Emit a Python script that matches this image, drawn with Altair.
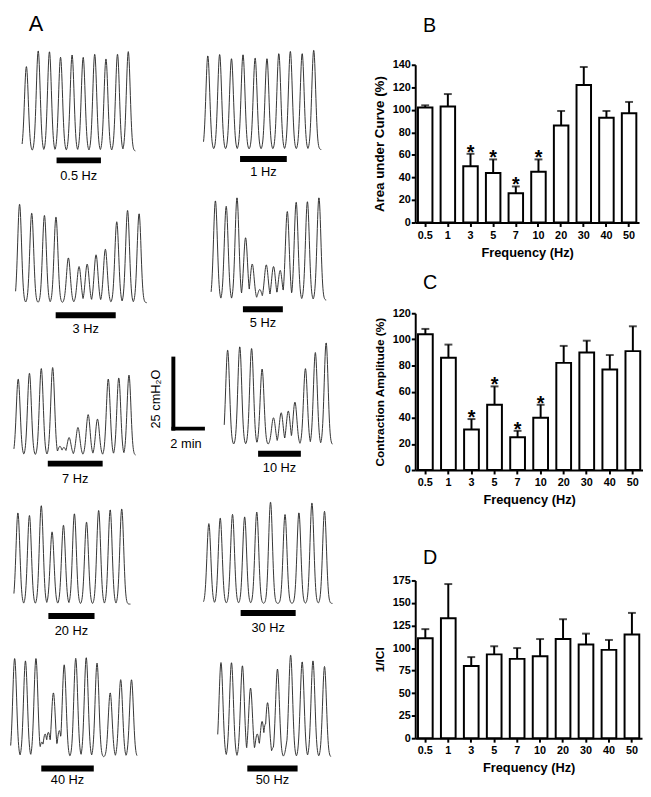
import altair as alt
import numpy as np
import pandas as pd

FONT = "Liberation Sans"

# ---------------- Panels B-D: bar data ----------------
freq_labels = ["0.5", "1", "3", "5", "7", "10", "20", "30", "40", "50"]
auc_mean = [102, 103, 50, 44, 26, 45, 86, 122, 93, 97]
auc_sem = [2, 11, 11, 12, 6, 11, 13, 16, 6, 10]
amp_mean = [104, 86, 31, 50, 25, 40, 82, 90, 77, 91]
amp_sem = [4, 10, 8, 14, 5, 10, 13, 9, 11, 19]
ici_mean = [111, 133, 80, 93, 88, 91, 110, 104, 98, 115]
ici_sem = [10, 38, 10, 9, 12, 19, 22, 12, 11, 24]
auc_sig = [False, False, True, True, True, True, False, False, False, False]
amp_sig = [False, False, True, True, True, True, False, False, False, False]
ici_sig = [False] * 10

# ---------------- Panel A: pressure traces ----------------
# peak times in min from trace start, peak amplitudes in cmH2O
tr05_t = [0.29, 1.09, 1.85, 2.6, 3.38, 4.13, 4.91, 5.67, 6.45, 7.18]
tr05_h = [30.2, 35.8, 35.5, 33.5, 34.3, 33.5, 34.6, 32.9, 34.6, 35.5]
tr1_t = [0.29, 1.09, 1.89, 2.67, 3.49, 4.29, 5.09, 5.87, 6.67, 7.45]
tr1_h = [33.5, 34.0, 32.5, 33.9, 32.7, 32.5, 34.3, 35.1, 34.3, 35.5]
tr3_t = [0.27, 1.09, 1.95, 2.73, 3.57, 4.29, 4.84, 5.44, 6.07, 6.84, 7.57, 8.35]
tr3_h = [35.2, 32.0, 31.2, 30.6, 16.0, 12.9, 13.8, 17.1, 19.1, 28.9, 33.0, 31.8]
tr5_t = [0.29, 1.02, 1.75, 2.33, 2.78, 3.29, 3.73, 4.22, 4.67, 5.15, 5.75, 6.51, 7.29]
tr5_h = [35.5, 33.5, 36.6, 22.3, 12.9, 3.8, 12.6, 12.0, 10.6, 31.7, 35.0, 35.2, 36.6]
tr7_t = [0.29, 1.05, 1.85, 2.62, 3.11, 3.38, 3.73, 4.33, 5.02, 5.65, 6.38, 7.09, 7.78]
tr7_h = [27.2, 29.3, 31.0, 31.3, 3.2, 2.8, 6.3, 9.9, 14.5, 12.9, 27.2, 27.6, 28.6]
tr10_t = [0.23, 1.05, 1.85, 2.56, 3.33, 3.85, 4.33, 4.78, 5.49, 6.16, 6.89]
tr10_h = [33.8, 35.0, 34.4, 27.0, 9.6, 11.4, 12.0, 15.2, 27.2, 32.9, 36.4]
tr20_t = [0.27, 1.05, 1.85, 2.58, 3.35, 4.09, 4.91, 5.73, 6.51, 7.29]
tr20_h = [32.6, 31.7, 35.2, 25.8, 28.2, 32.3, 29.3, 33.5, 33.7, 34.0]
tr30_t = [0.36, 1.13, 1.96, 2.78, 3.6, 4.53, 5.51, 6.45, 7.33, 8.18]
tr30_h = [28.5, 30.5, 31.8, 30.9, 32.6, 36.2, 31.8, 32.4, 35.9, 32.9]
tr40_t = [0.27, 1.0, 1.71, 2.11, 2.33, 2.55, 2.89, 3.29, 3.62, 4.4, 5.11, 5.84, 6.73, 7.44, 8.17]
tr40_h = [35.2, 34.3, 35.2, 5.3, 8.2, 8.8, 22.9, 9.4, 32.9, 35.2, 35.5, 33.5, 22.9, 27.6, 27.6]
tr50_t = [0.22, 0.93, 1.67, 2.22, 2.67, 3.0, 3.22, 3.37, 3.77, 4.04, 4.77, 4.93, 5.71, 6.44, 7.22]
tr50_h = [33.7, 33.7, 32.6, 24.6, 8.2, 12.7, 11.7, 19.4, 3.5, 31.4, 7.6, 36.4, 34.0, 34.3, 32.3]

trace_labels = ["0.5 Hz", "1 Hz", "3 Hz", "5 Hz", "7 Hz", "10 Hz", "20 Hz", "30 Hz", "40 Hz", "50 Hz"]
trace_end = [7.67, 7.96, 8.89, 7.78, 8.22, 7.33, 7.89, 8.73, 8.55, 7.67]
stim_start = [2.33, 2.47, 2.71, 2.15, 2.29, 2.29, 2.33, 2.51, 2.07, 2.0]
stim_end = [5.33, 5.63, 6.77, 4.85, 6.0, 5.18, 5.45, 6.23, 5.62, 5.4]
scale_bar_cm = [25]
scale_bar_min = [2]

peaks_t = [tr05_t, tr1_t, tr3_t, tr5_t, tr7_t, tr10_t, tr20_t, tr30_t, tr40_t, tr50_t]
peaks_h = [tr05_h, tr1_h, tr3_h, tr5_h, tr7_h, tr10_h, tr20_h, tr30_h, tr40_h, tr50_h]

# ---------------- layout (pixels) ----------------
K_Y = 2.84   # px per cmH2O
K_X = 15.0   # px per min
SIGMA = 0.13  # peak width (style)
# per trace: panel left, panel width, trace start x, panel top, panel height, baseline y, bar y, label y
layout = [
    (8, 192, 18.3, 8, 174, 145.5, 155, 171),
    (200, 136, 202.3, 8, 174, 144, 153.5, 167),
    (8, 192, 11.7, 182, 153, 299.3, 312, 326.5),
    (200, 136, 210, 182, 153, 296.7, 306, 320.3),
    (8, 192, 10, 335, 154, 454, 462.5, 478),
    (200, 136, 218.3, 335, 154, 443.3, 452.5, 466.7),
    (8, 192, 10, 489, 153, 605, 617, 632.5),
    (200, 136, 202.3, 489, 153, 604.3, 614, 629),
    (8, 192, 6.7, 642, 147, 760, 771.7, 783.5),
    (200, 136, 216.7, 642, 147, 760, 771.7, 783.5),
]


def trace_frame(tp, hp, t_end):
    t = np.arange(0, t_end + 1e-9, 0.02)
    tpa = np.array(tp)[:, None]
    hpa = np.array(hp)[:, None]
    y = (hpa * np.exp(-0.5 * ((t[None, :] - tpa) / SIGMA) ** 2)).max(axis=0)
    return pd.DataFrame({"t": t, "p": y})


def trace_panel(i):
    xl, W, xs, y0, H, yb, bar_y, lab_y = layout[i]
    x_lo = -(xs - xl) / K_X
    xsc = alt.Scale(domain=[x_lo, x_lo + W / K_X], nice=False, zero=False)
    y_hi = (yb - y0) / K_Y
    ysc = alt.Scale(domain=[y_hi - H / K_Y, y_hi], nice=False, zero=False)
    line = alt.Chart(trace_frame(peaks_t[i], peaks_h[i], trace_end[i])).mark_line(
        color="#333333", strokeWidth=1
    ).encode(
        x=alt.X("t:Q", scale=xsc, axis=None),
        y=alt.Y("p:Q", scale=ysc, axis=None),
    )
    sdf = pd.DataFrame({"s": [stim_start[i]], "e": [stim_end[i]], "label": [trace_labels[i]]})
    bar = alt.Chart(sdf).mark_rule(color="black", strokeWidth=6).encode(
        x=alt.X("s:Q", scale=xsc, axis=None), x2="e:Q", y=alt.value(bar_y - y0)
    )
    lab = alt.Chart(sdf).transform_calculate(mid="(datum.s + datum.e) / 2").mark_text(
        font=FONT, fontSize=13, align="center", baseline="middle", color="black"
    ).encode(x=alt.X("mid:Q", scale=xsc, axis=None), y=alt.value(lab_y - y0), text="label:N")
    layers = [line, bar, lab]
    if i == 0:
        layers.append(
            alt.Chart(pd.DataFrame({"txt": ["A"]})).mark_text(
                font=FONT, fontSize=22, align="left", baseline="alphabetic", color="black"
            ).encode(x=alt.value(17), y=alt.value(16), text="txt:N")
        )
    if i == 4:
        tc = x_lo + (171.7 - xl) / K_X
        vc = (yb - 427) / K_Y
        sb = pd.DataFrame({"t0": [tc], "t1": [tc + scale_bar_min[0]], "v0": [vc], "v1": [vc + scale_bar_cm[0]]})
        layers.append(alt.Chart(sb).mark_rule(color="black", strokeWidth=4, strokeCap="square").encode(
            x=alt.X("t0:Q", scale=xsc, axis=None), y=alt.Y("v0:Q", scale=ysc, axis=None), y2="v1:Q"))
        layers.append(alt.Chart(sb).mark_rule(color="black", strokeWidth=4, strokeCap="square").encode(
            x=alt.X("t0:Q", scale=xsc, axis=None), x2="t1:Q", y=alt.Y("v0:Q", scale=ysc, axis=None)))
        layers.append(alt.Chart(pd.DataFrame({"txt": ["25 cmH\u2082O"]})).mark_text(
            font=FONT, fontSize=13, angle=270, align="center", baseline="middle", color="black"
        ).encode(x=alt.value(154 - xl), y=alt.value(397 - y0), text="txt:N"))
        layers.append(alt.Chart(pd.DataFrame({"txt": ["2 min"]})).mark_text(
            font=FONT, fontSize=13, align="center", baseline="middle", color="black"
        ).encode(x=alt.value(184.5 - xl), y=alt.value(443 - y0), text="txt:N"))
    return alt.layer(*layers).properties(width=W, height=H)


rows = [alt.hconcat(trace_panel(2 * r), trace_panel(2 * r + 1), spacing=0) for r in range(5)]
left_block = alt.vconcat(*rows, spacing=0)


def bar_panel(letter, mean, sem, sig, ymax, ystep, ytitle, ytitle_size, w, h, t_offset):
    df = pd.DataFrame({"f": freq_labels, "m": mean, "s": sem, "sig": sig})
    base = alt.Chart(df).transform_calculate(top="datum.m + datum.s")
    xenc = alt.X(
        "f:N", sort=freq_labels, title="Frequency (Hz)",
        scale=alt.Scale(paddingInner=0.36, paddingOuter=0.12),
        axis=alt.Axis(labelAngle=0, labelPadding=3, titlePadding=6, titleFontSize=13),
    )
    yscale = alt.Scale(domain=[0, ymax], nice=False)
    yaxis = alt.Axis(values=list(range(0, ymax + 1, ystep)), labelPadding=1, titlePadding=6,
                     titleFontSize=ytitle_size)
    err = base.mark_rule(color="black", strokeWidth=2).encode(
        x=xenc, y=alt.Y("m:Q", scale=yscale, axis=yaxis, title=ytitle), y2="top:Q")
    bars = base.mark_bar(fill="white", stroke="black", strokeWidth=2).encode(
        x=xenc, y=alt.Y("m:Q", scale=yscale, axis=yaxis, title=ytitle))
    cap = base.mark_tick(color="black", thickness=2, size=8).encode(
        x=xenc, y=alt.Y("top:Q", scale=yscale, axis=yaxis, title=ytitle))
    layers = [err, bars, cap]
    if any(sig):
        star = base.transform_filter("datum.sig").mark_text(
            text="*", font=FONT, fontSize=20, fontWeight="bold", baseline="alphabetic", dy=5, color="black"
        ).encode(x=xenc, y=alt.Y("top:Q", scale=yscale, axis=yaxis, title=ytitle))
        layers.append(star)
    return alt.layer(*layers).properties(
        width=w, height=h,
        title=alt.TitleParams(letter, anchor="start", frame="group", fontSize=20, font=FONT,
                              fontWeight="normal", offset=t_offset, dx=8, color="black"),
    )


chart_b = bar_panel("B", auc_mean, auc_sem, auc_sig, 140, 20, "Area under Curve (%)", 13.5, 227, 160, 23)
chart_c = bar_panel("C", amp_mean, amp_sem, amp_sig, 120, 20, "Contraction Amplitude (%)", 12, 231, 159, 15)
chart_d = bar_panel("D", ici_mean, ici_sem, ici_sig, 175, 25, "1/ICI", 12, 230, 160, 7)

# invisible 1-px spacer keeps the top of both columns aligned
spacer = alt.Chart(pd.DataFrame({"a": [0]})).mark_point(size=0, opacity=0, strokeWidth=0).encode(
    x=alt.value(0), y=alt.value(0)).properties(width=1, height=1)

right_block = alt.vconcat(
    alt.vconcat(alt.vconcat(spacer, chart_b, spacing=0), chart_c, spacing=14),
    chart_d, spacing=42,
)

chart = alt.hconcat(left_block, right_block, spacing=32).properties(
    padding={"left": 0, "top": 0, "right": 0, "bottom": 0}
).configure_view(stroke=None).configure_axis(
    domainColor="black", domainWidth=2, tickColor="black", tickWidth=2, tickSize=4,
    labelFont=FONT, labelFontWeight="bold", labelFontSize=11, labelColor="black",
    titleFont=FONT, titleFontWeight="bold", titleColor="black", grid=False,
)

chart.save("out.html", embed_options={"renderer": "svg", "actions": False})
